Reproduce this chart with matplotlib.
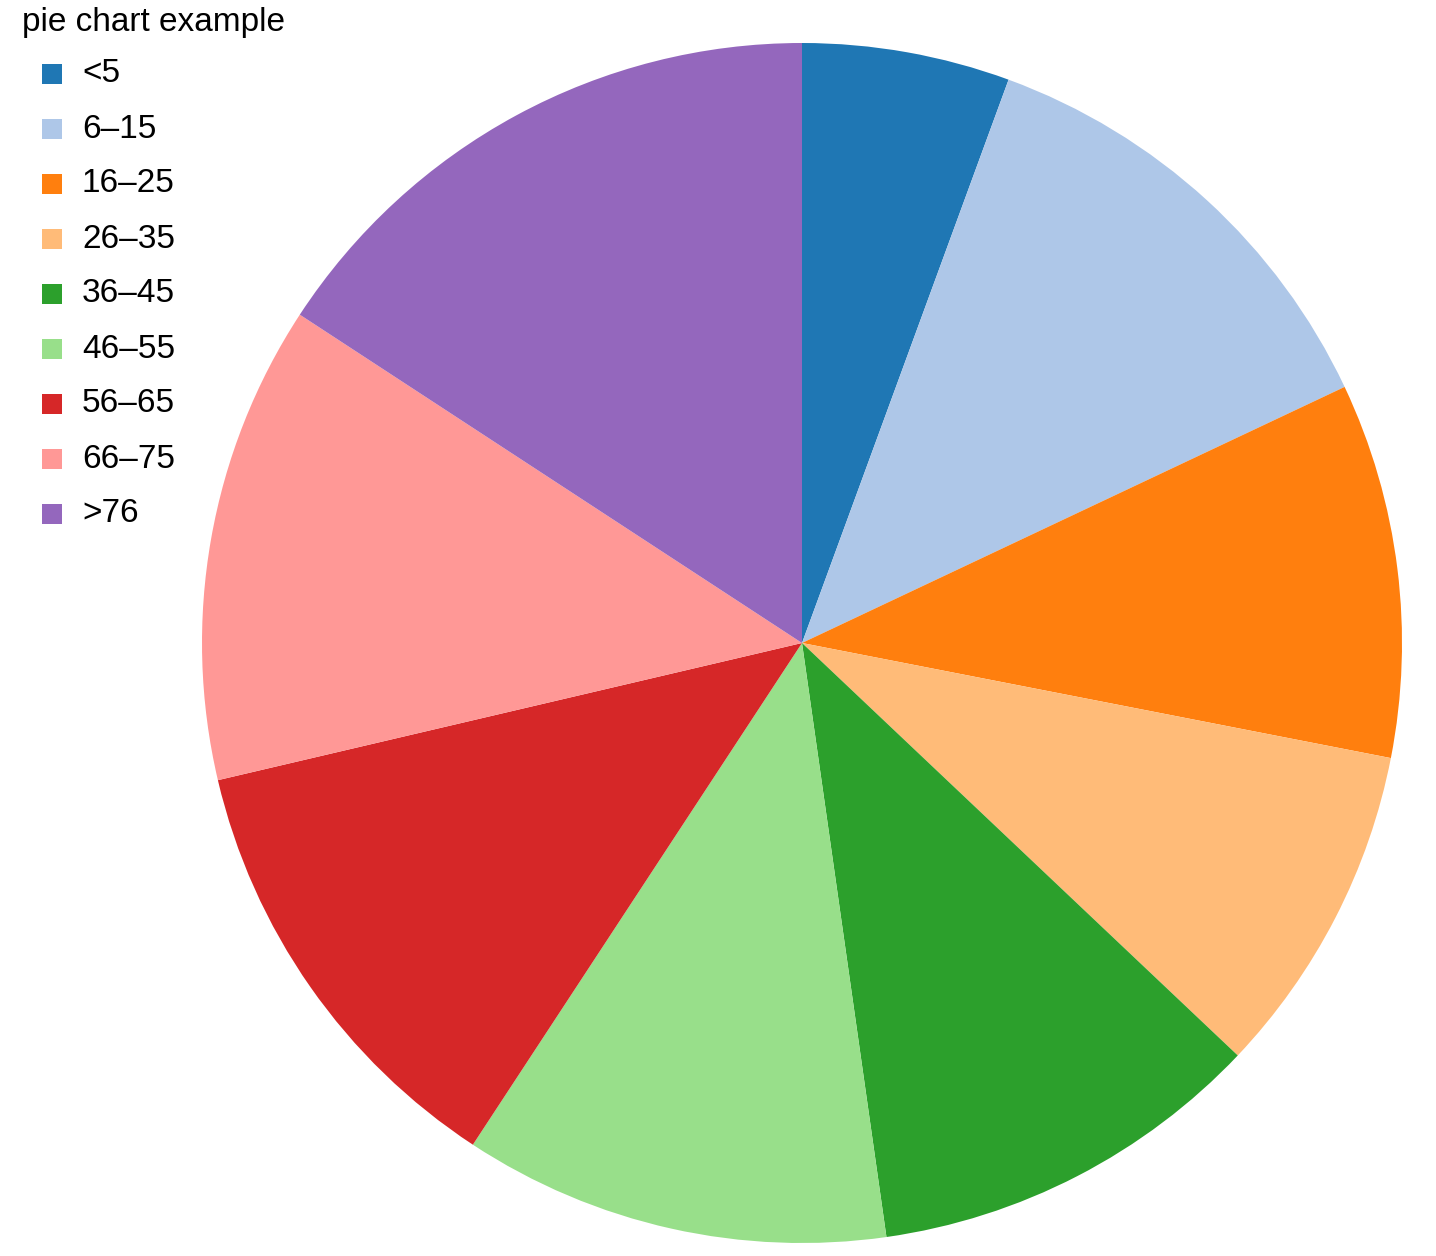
import matplotlib
matplotlib.use("Agg")
import matplotlib.pyplot as plt
from matplotlib.patches import Rectangle

labels = ["<5", "6–15", "16–25", "26–35", "36–45", "46–55", "56–65", "66–75", ">76"]
values = [5.6, 12.4, 10.1, 9.0, 10.7, 11.5, 12.1, 12.9, 15.8]
colors = ["#1f77b4", "#aec7e8", "#ff7f0e", "#ffbb78", "#2ca02c",
          "#98df8a", "#d62728", "#ff9896", "#9467bd"]
title = "pie chart example"

W, H = 1436, 1256
fig = plt.figure(figsize=(W / 100, H / 100), dpi=100)
fig.patch.set_facecolor("white")

cx, cy, r = 802, 643, 600
ax = fig.add_axes([(cx - r) / W, (H - cy - r) / H, 2 * r / W, 2 * r / H])
ax.pie(values, colors=colors, startangle=90, counterclock=False, radius=1,
       wedgeprops=dict(linewidth=0))
ax.set_xlim(-1, 1)
ax.set_ylim(-1, 1)
ax.set_aspect("equal")
ax.axis("off")

font = "Liberation Sans"
fs = 24
fig.text(22 / W, 1 - 22 / H, title, fontsize=fs, family=font, va="center", ha="left")
for i, (lab, col) in enumerate(zip(labels, colors)):
    yc = 74 + 55 * i
    fig.patches.append(Rectangle((42 / W, 1 - (yc + 10) / H), 20 / W, 20 / H,
                                 transform=fig.transFigure, facecolor=col,
                                 edgecolor="none"))
    fig.text(82 / W, 1 - yc / H, lab, fontsize=fs, family=font, va="center", ha="left")

fig.savefig("out.png", dpi=100)
